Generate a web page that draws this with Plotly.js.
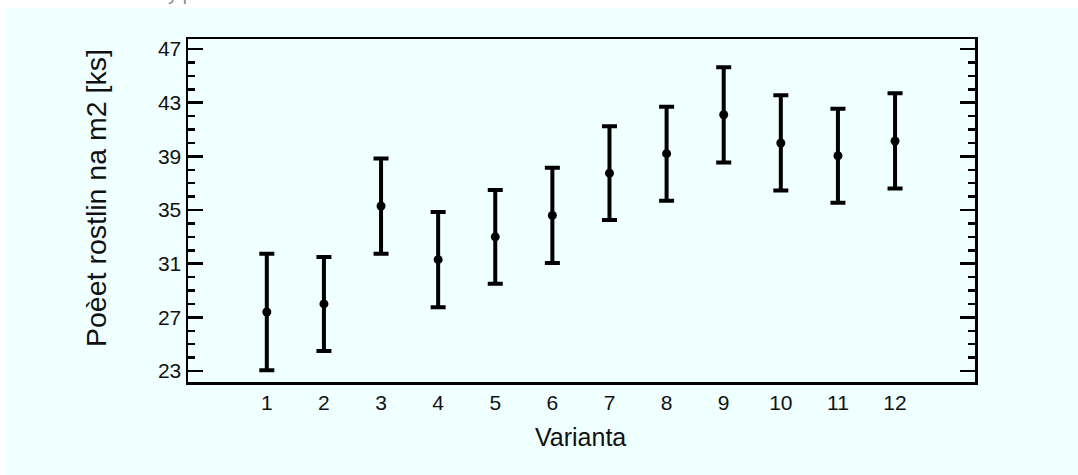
<!DOCTYPE html>
<html>
<head>
<meta charset="utf-8">
<script src="https://cdn.plot.ly/plotly-3.0.1.min.js"></script>
<style>html,body{margin:0;padding:0;background:#fff;}#chart{width:1078px;height:475px;}</style>
</head>
<body>
<div id="chart"></div>
<script>
const varianty = [1, 2, 3, 4, 5, 6, 7, 8, 9, 10, 11, 12];
const prumer = [27.4, 28.0, 35.3, 31.3, 33.0, 34.6, 37.75, 39.2, 42.1, 40.0, 39.05, 40.15];
const chyba = [4.35, 3.5, 3.55, 3.55, 3.5, 3.55, 3.5, 3.5, 3.55, 3.55, 3.5, 3.55];
const yTicks = [23, 27, 31, 35, 39, 43, 47];

const W = 1078, H = 475;
const L = 188, R = 975, T = 39, B = 382;
const pw = R - L, ph = B - T;
const px = x => (x - L) / pw;
const py = y => (B - y) / ph;

const font = "Liberation Sans, Arial, Helvetica, sans-serif";

const trace = {
  x: varianty,
  y: prumer,
  type: 'scatter',
  mode: 'markers',
  marker: {color: '#000', size: 9},
  error_y: {type: 'data', array: chyba, visible: true, color: '#000', thickness: 4, width: 7.5},
  hoverinfo: 'skip'
};

const tickFont = {family: font, size: 21, color: '#111'};

const layout = {
  width: W, height: H,
  margin: {l: L, r: W - R, t: T, b: H - B, pad: 0},
  paper_bgcolor: '#ffffff',
  plot_bgcolor: 'rgba(0,0,0,0)',
  showlegend: false,
  font: {family: font, size: 21, color: '#111'},
  xaxis: {
    range: [-0.38, 13.4],
    tickmode: 'array',
    tickvals: varianty,
    ticktext: varianty.map(String),
    ticks: '',
    showgrid: false, zeroline: false,
    showline: true, linecolor: '#000', linewidth: 2.5, mirror: true,
    tickfont: tickFont
  },
  yaxis: {
    range: [22.18, 47.75],
    tickmode: 'array',
    tickvals: yTicks,
    ticktext: yTicks.map(String),
    ticks: 'inside', ticklen: 15, tickwidth: 2.5, tickcolor: '#000',
    minor: {dtick: 1, tick0: 23, ticks: 'inside', ticklen: 7, tickwidth: 2.5, tickcolor: '#000', showgrid: false},
    showgrid: false, zeroline: false,
    showline: true, linecolor: '#000', linewidth: 2.5, mirror: 'ticks',
    tickfont: tickFont
  },
  shapes: [{
    type: 'rect', xref: 'paper', yref: 'paper', layer: 'below',
    x0: px(6), x1: px(1090), y0: py(490), y1: py(8),
    fillcolor: '#F0FFFF', line: {width: 0}
  }],
  annotations: [
    {
      text: 'Poèet rostlin na m2 [ks]', xref: 'paper', yref: 'paper',
      x: px(96), y: py(198), xanchor: 'center', yanchor: 'middle',
      textangle: -90, showarrow: false,
      font: {size: 28.5, family: font, color: '#111'}
    },
    {
      text: 'Varianta', xref: 'paper', yref: 'paper',
      x: px(580), y: py(437), xanchor: 'center', yanchor: 'middle',
      showarrow: false,
      font: {size: 25, family: font, color: '#111'}
    },
    {
      text: 'Graf č. 3 Průměrný počet rostlin na m2', xref: 'paper', yref: 'paper',
      x: px(15), y: py(6.2), xanchor: 'left', yanchor: 'bottom',
      showarrow: false,
      font: {size: 19, family: font, color: '#888'}
    }
  ]
};

Plotly.newPlot('chart', [trace], layout, {displayModeBar: false, staticPlot: true});
</script>
</body>
</html>
